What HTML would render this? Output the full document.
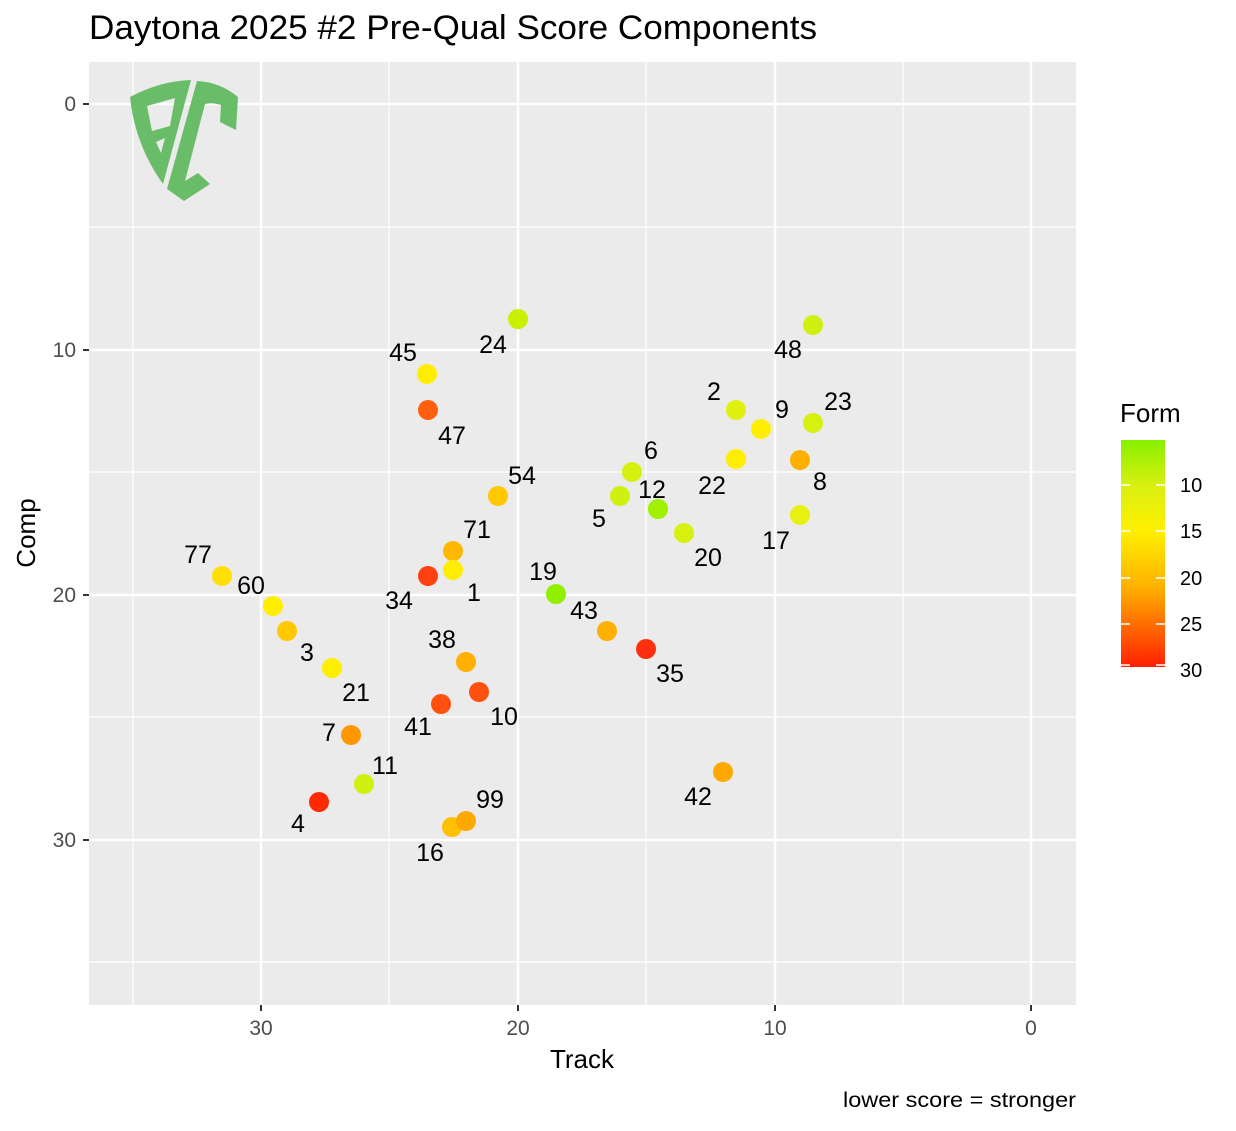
<!DOCTYPE html>
<html><head><meta charset="utf-8"><style>
body{margin:0;background:#fff;font-family:"Liberation Sans",sans-serif}
</style></head><body>
<svg width="1236" height="1126" xmlns="http://www.w3.org/2000/svg" font-family="Liberation Sans, sans-serif">
<rect width="1236" height="1126" fill="#fff"/>
<text x="89" y="39" font-size="34" fill="#000" textLength="728" lengthAdjust="spacingAndGlyphs">Daytona 2025 #2 Pre-Qual Score Components</text>
<rect x="89" y="62" width="987" height="943" fill="#ebebeb"/>
<g stroke="#fff" stroke-width="1.2">
<line x1="133" y1="62" x2="133" y2="1005"/><line x1="389" y1="62" x2="389" y2="1005"/><line x1="646" y1="62" x2="646" y2="1005"/><line x1="903" y1="62" x2="903" y2="1005"/>
<line x1="89" y1="227" x2="1076" y2="227"/><line x1="89" y1="472" x2="1076" y2="472"/><line x1="89" y1="717" x2="1076" y2="717"/><line x1="89" y1="962" x2="1076" y2="962"/>
</g>
<g stroke="#fff" stroke-width="2.4">
<line x1="261" y1="62" x2="261" y2="1005"/><line x1="518" y1="62" x2="518" y2="1005"/><line x1="775" y1="62" x2="775" y2="1005"/><line x1="1031" y1="62" x2="1031" y2="1005"/>
<line x1="89" y1="104" x2="1076" y2="104"/><line x1="89" y1="350" x2="1076" y2="350"/><line x1="89" y1="595" x2="1076" y2="595"/><line x1="89" y1="840" x2="1076" y2="840"/>
</g>
<g fill="#69bd68" fill-rule="evenodd">
<path d="M130,97 Q160,81 191,80 L163,184 Q135,145 130,97 Z M147,106 L175,98 L170,126 L152,131 Z M156,142 L165,138 L161,153 Z"/>
<path d="M197,81 Q220,82 238,97 L236,130 L220,122 L221,105 Q212,102 205,104 L185,181 L198,173 L210,184 L184,201 L167,189 Z"/>
</g>
<g font-size="21" fill="#4d4d4d" text-anchor="middle">
<text x="261" y="1035">30</text><text x="518" y="1035">20</text><text x="775" y="1035">10</text><text x="1031" y="1035">0</text>
</g>
<g font-size="21" fill="#4d4d4d" text-anchor="end">
<text x="76" y="111">0</text><text x="76" y="357">10</text><text x="76" y="602">20</text><text x="76" y="847">30</text>
</g>
<g stroke="#333" stroke-width="2">
<line x1="261" y1="1005" x2="261" y2="1011"/><line x1="518" y1="1005" x2="518" y2="1011"/><line x1="775" y1="1005" x2="775" y2="1011"/><line x1="1031" y1="1005" x2="1031" y2="1011"/>
<line x1="83" y1="104" x2="89" y2="104"/><line x1="83" y1="350" x2="89" y2="350"/><line x1="83" y1="595" x2="89" y2="595"/><line x1="83" y1="840" x2="89" y2="840"/>
</g>
<text x="582" y="1068" font-size="26" text-anchor="middle">Track</text>
<text x="35" y="533" font-size="26" text-anchor="middle" transform="rotate(-90 35 533)">Comp</text>
<text x="1076" y="1107" font-size="21" text-anchor="end" textLength="233" lengthAdjust="spacingAndGlyphs">lower score = stronger</text>
<g>
<circle cx="518" cy="319" r="10" fill="#c8f000"/><circle cx="813" cy="325" r="10" fill="#d0f010"/>
<circle cx="427" cy="374" r="10" fill="#ffee00"/><circle cx="428" cy="410" r="10" fill="#ff6010"/>
<circle cx="736" cy="410" r="10" fill="#e0f010"/><circle cx="761" cy="429" r="10" fill="#ffee00"/>
<circle cx="813" cy="423" r="10" fill="#d8f010"/><circle cx="632" cy="472" r="10" fill="#d8f010"/>
<circle cx="736" cy="459" r="10" fill="#ffee00"/><circle cx="800" cy="460" r="10" fill="#ffb000"/>
<circle cx="498" cy="496" r="10" fill="#ffc800"/><circle cx="620" cy="496" r="10" fill="#d0f010"/>
<circle cx="658" cy="509" r="10" fill="#a0f000"/><circle cx="684" cy="533" r="10" fill="#d8f010"/>
<circle cx="800" cy="515" r="10" fill="#e8f010"/><circle cx="453" cy="551" r="10" fill="#ffb800"/>
<circle cx="222" cy="576" r="10" fill="#ffe000"/><circle cx="428" cy="576" r="10" fill="#ff4010"/>
<circle cx="453" cy="570" r="10" fill="#ffee00"/><circle cx="273" cy="606" r="10" fill="#ffee00"/>
<circle cx="556" cy="594" r="10" fill="#90f000"/><circle cx="607" cy="631" r="10" fill="#ffb000"/>
<circle cx="287" cy="631" r="10" fill="#ffc800"/><circle cx="646" cy="649" r="10" fill="#ff3010"/>
<circle cx="466" cy="662" r="10" fill="#ffb000"/><circle cx="332" cy="668" r="10" fill="#ffee00"/>
<circle cx="479" cy="692" r="10" fill="#ff5010"/><circle cx="441" cy="704" r="10" fill="#ff5010"/>
<circle cx="351" cy="735" r="10" fill="#ff9800"/><circle cx="723" cy="772" r="10" fill="#ffa800"/>
<circle cx="364" cy="784" r="10" fill="#d0f010"/><circle cx="319" cy="802" r="10" fill="#ff2a00"/>
<circle cx="452" cy="827" r="10" fill="#ffc000"/><circle cx="466" cy="821" r="10" fill="#ffa800"/>
</g>
<g font-size="25" text-anchor="middle" fill="#000">
<text x="493" y="353">24</text><text x="788" y="358">48</text><text x="403" y="361">45</text><text x="452" y="444">47</text>
<text x="714" y="400">2</text><text x="782" y="418">9</text><text x="838" y="410">23</text><text x="651" y="459">6</text>
<text x="712" y="494">22</text><text x="820" y="490">8</text><text x="522" y="484">54</text><text x="599" y="527">5</text>
<text x="652" y="498">12</text><text x="708" y="566">20</text><text x="776" y="549">17</text><text x="477" y="538">71</text>
<text x="198" y="563">77</text><text x="399" y="609">34</text><text x="474" y="601">1</text><text x="251" y="594">60</text>
<text x="543" y="580">19</text><text x="584" y="619">43</text><text x="307" y="661">3</text><text x="670" y="682">35</text>
<text x="442" y="648">38</text><text x="356" y="701">21</text><text x="504" y="725">10</text><text x="418" y="735">41</text>
<text x="329" y="741">7</text><text x="698" y="805">42</text><text x="385" y="774">11</text><text x="298" y="832">4</text>
<text x="490" y="808">99</text><text x="430" y="861">16</text>
</g>
<text x="1120" y="422" font-size="26">Form</text>
<defs><linearGradient id="g" x1="0" y1="0" x2="0" y2="1">
<stop offset="0" stop-color="#88f000"/><stop offset="0.2" stop-color="#d8f010"/><stop offset="0.4" stop-color="#fff000"/><stop offset="0.65" stop-color="#ffb000"/><stop offset="1" stop-color="#ff2000"/>
</linearGradient></defs>
<rect x="1121" y="440" width="44" height="227" fill="url(#g)"/>
<g stroke="#fff" stroke-width="1.5">
<line x1="1121" y1="485" x2="1130" y2="485"/><line x1="1156" y1="485" x2="1165" y2="485"/>
<line x1="1121" y1="531" x2="1130" y2="531"/><line x1="1156" y1="531" x2="1165" y2="531"/>
<line x1="1121" y1="578" x2="1130" y2="578"/><line x1="1156" y1="578" x2="1165" y2="578"/>
<line x1="1121" y1="624" x2="1130" y2="624"/><line x1="1156" y1="624" x2="1165" y2="624"/>
<line x1="1121" y1="665" x2="1130" y2="665"/><line x1="1156" y1="665" x2="1165" y2="665"/>
</g>
<g font-size="20" fill="#000">
<text x="1180" y="492">10</text><text x="1180" y="538">15</text><text x="1180" y="585">20</text><text x="1180" y="631">25</text><text x="1180" y="677">30</text>
</g>
</svg>
</body></html>
